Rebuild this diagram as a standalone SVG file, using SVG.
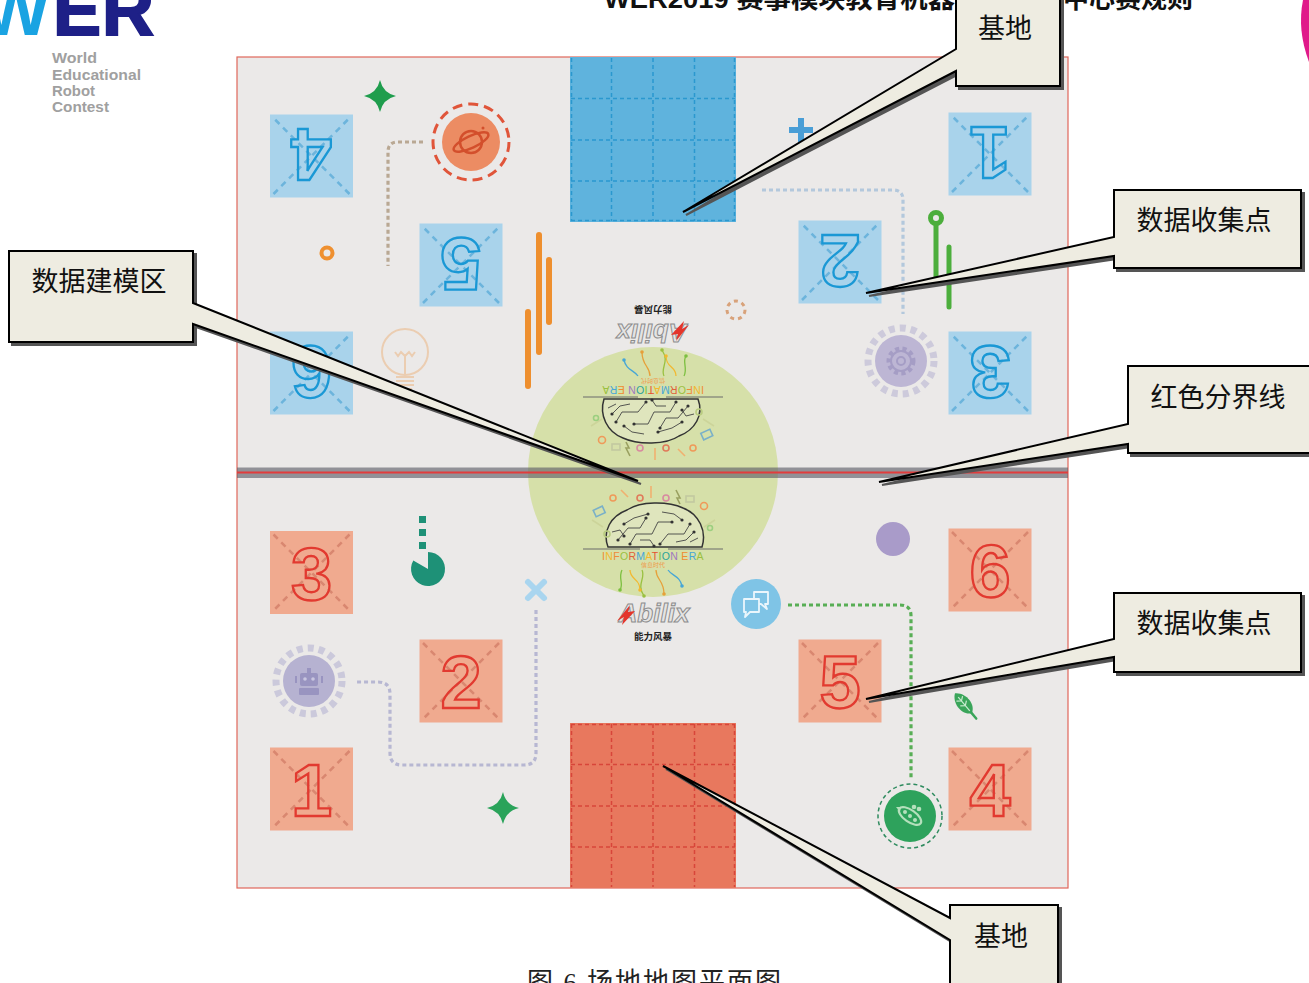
<svg xmlns="http://www.w3.org/2000/svg" xmlns:xlink="http://www.w3.org/1999/xlink" width="1309" height="983" viewBox="0 0 1309 983">
  <defs>
    <style>
      .cj { font-family: "Noto Sans CJK SC", sans-serif; }
      .callout { fill: #eeece1; stroke: #000; stroke-width: 2; stroke-linejoin: miter; }
      .shadow { fill: #555; stroke: #555; stroke-width: 2; }
      .ctext { font-family: "Noto Sans CJK SC", sans-serif; font-size: 27px; fill: #111; text-anchor: middle; }
      .sqb { fill: #a9d3eb; }
      .sqr { fill: #f0aa8f; }
      .diagb { stroke: #6cb4dc; stroke-width: 2.5; stroke-dasharray: 6 5; fill: none; }
      .diagr { stroke: #d98770; stroke-width: 2.5; stroke-dasharray: 6 5; fill: none; }
      .digb { font-family: "Liberation Sans", sans-serif; font-weight: bold; font-size: 74px; fill: none; stroke: #1a98d5; stroke-width: 2.3; text-anchor: middle; }
      .digr { font-family: "Liberation Sans", sans-serif; font-weight: bold; font-size: 74px; fill: none; stroke: #e23a30; stroke-width: 2.3; text-anchor: middle; }
      .dot { fill: none; stroke-width: 3.2; stroke-dasharray: 4 3; stroke-linecap: butt; }
      .gridb { stroke: #2a98cf; stroke-width: 1.5; stroke-dasharray: 4 3; fill: none; }
      .gridr { stroke: #d8453a; stroke-width: 1.5; stroke-dasharray: 4 3; fill: none; }
      .wer { font-family: "Liberation Sans", sans-serif; font-weight: bold; fill: #a0a0a0; font-size: 15px; }
    </style>
    <linearGradient id="wGrad" x1="0" y1="0" x2="1" y2="0">
      <stop offset="0" stop-color="#1aa3e2"/>
      <stop offset="0.48" stop-color="#1aa3e2"/>
      <stop offset="0.49" stop-color="#e3187f"/>
      <stop offset="0.7" stop-color="#e3187f"/>
      <stop offset="0.71" stop-color="#1e2087"/>
      <stop offset="1" stop-color="#1e2087"/>
    </linearGradient>
    <path id="star4" d="M0,-16 Q3,-3 16,0 Q3,3 0,16 Q-3,3 -16,0 Q-3,-3 0,-16 Z"/>
    <g id="diagonals">
      <line x1="-38" y1="-38" x2="38" y2="38"/>
      <line x1="38" y1="-38" x2="-38" y2="38"/>
    </g>
  </defs>

  <!-- page -->
  <rect x="0" y="0" width="1309" height="983" fill="#ffffff"/>

  <!-- WER logo -->
  <g id="logo">
    <text x="0" y="35" font-family="Liberation Sans, sans-serif" font-weight="bold" font-size="72" fill="#1e2087" stroke="#1e2087" stroke-width="2"><tspan x="-18" fill="url(#wGrad)" stroke="none">W</tspan><tspan x="53">E</tspan><tspan x="102">R</tspan></text>
    <text class="wer" x="52" y="63" textLength="45" lengthAdjust="spacingAndGlyphs">World</text>
    <text class="wer" x="52" y="80" textLength="89" lengthAdjust="spacingAndGlyphs">Educational</text>
    <text class="wer" x="52" y="96" textLength="43" lengthAdjust="spacingAndGlyphs">Robot</text>
    <text class="wer" x="52" y="112" textLength="57" lengthAdjust="spacingAndGlyphs">Contest</text>
  </g>
  <path d="M1309,0 L1303,0 Q1297,30 1309,62 Z" fill="#e0198a"/>

  <!-- page heading -->
  <g id="heading" font-family="Liberation Sans, 'Noto Sans CJK SC', sans-serif" font-weight="bold" font-size="26" fill="#111">
    <text x="604" y="8" textLength="351" lengthAdjust="spacingAndGlyphs">WER2019 赛事模块教育机器</text>
    <text x="1193" y="8" text-anchor="end">中心赛规则</text>
  </g>

  <!-- playing field -->
  <g id="field">
    <rect x="237" y="57" width="831" height="831" fill="#ebe9e8" stroke="#e0675a" stroke-width="1.2"/>
    <circle id="modeling-zone" cx="653" cy="472" r="125" fill="#d6e0a9"/>
  </g>

  <!-- home bases -->
  <g id="base-top">
    <rect x="570" y="57" width="166" height="165" fill="#5fb3dd"/>
    <path class="gridb" d="M571.5,58 V221 M611.5,58 V221 M653,58 V221 M694.5,58 V221 M734.5,58 V221 M571,98.5 H735 M571,140 H735 M571,181 H735 M571,220.5 H735"/>
  </g>
  <g id="base-bottom">
    <rect x="570" y="723" width="166" height="165" fill="#e8785e"/>
    <path class="gridr" d="M571.5,724 V887 M611.5,724 V887 M653,724 V887 M694.5,724 V887 M734.5,724 V887 M571,724.5 H735 M571,764.5 H735 M571,806 H735 M571,847 H735"/>
  </g>

  <!-- emblem (lower), mirrored for upper half -->
  <g id="emblem-bottom">
    <line x1="583" y1="549" x2="640" y2="549" stroke="#6a6a6a" stroke-width="1"/>
    <line x1="668" y1="549" x2="723" y2="549" stroke="#6a6a6a" stroke-width="1"/>
    <path d="M608,547 C602,531 611,516 627,510 C640,501 668,501 683,508 C699,514 707,531 702,547 Z" fill="#dfe5bd" stroke="#333" stroke-width="1.5"/>
    <g stroke="#444" stroke-width="0.9" fill="none">
      <path d="M618,540 L628,528 L640,528 L646,518"/>
      <path d="M630,544 L636,534 L652,534 L658,522 L672,522"/>
      <path d="M660,544 L668,534 L684,534 L690,524"/>
      <path d="M624,524 L634,518 L648,514"/>
      <path d="M676,542 L686,540 L694,532"/>
      <path d="M640,540 L650,540 L654,546"/>
      <path d="M662,512 L674,514 L682,520"/>
      <path d="M612,532 L620,530 L624,536"/>
      <path d="M690,542 L698,538"/>
    </g>
    <g fill="#333">
      <circle cx="618" cy="540" r="1.6"/><circle cx="646" cy="518" r="1.6"/><circle cx="672" cy="522" r="1.6"/>
      <circle cx="690" cy="524" r="1.6"/><circle cx="624" cy="524" r="1.6"/><circle cx="648" cy="514" r="1.6"/>
      <circle cx="694" cy="532" r="1.6"/><circle cx="654" cy="546" r="1.6"/><circle cx="682" cy="520" r="1.6"/>
      <circle cx="630" cy="544" r="1.6"/><circle cx="660" cy="544" r="1.6"/><circle cx="624" cy="536" r="1.6"/>
    </g>
    <g stroke-width="1.6" fill="none">
      <line x1="592" y1="520" x2="603" y2="527" stroke="#ccd49a"/>
      <line x1="715" y1="520" x2="704" y2="527" stroke="#ccd49a"/>
      <rect x="594" y="508" width="10" height="7" stroke="#7ab0c8" transform="rotate(-25 599 511)"/>
      <circle cx="607" cy="534" r="3" stroke="#b9cc80"/>
      <circle cx="613" cy="498" r="3" stroke="#ef9a5a"/>
      <line x1="621" y1="490" x2="628" y2="497" stroke="#f0b070"/>
      <circle cx="640" cy="498" r="3" stroke="#e07a5a"/>
      <line x1="651" y1="486" x2="651" y2="498" stroke="#f0b070"/>
      <circle cx="666" cy="498" r="3" stroke="#d88aa0"/>
      <path d="M676,490 l4,8 l-3,0 l3,6" stroke="#9aa060"/>
      <rect x="686" y="496" width="8" height="6" stroke="#c2c9a0"/>
      <circle cx="704" cy="506" r="3.5" stroke="#ef9a5a"/>
      <circle cx="710" cy="528" r="2.5" stroke="#9ccf80"/>
    </g>
    <text x="653" y="560" text-anchor="middle" font-family="Liberation Sans, sans-serif" font-size="10.5" letter-spacing="0.3"><tspan fill="#f08c30">I</tspan><tspan fill="#f2b830">N</tspan><tspan fill="#ef8a3a">F</tspan><tspan fill="#9ac040">O</tspan><tspan fill="#e0603a">R</tspan><tspan fill="#47a6d6">M</tspan><tspan fill="#f2b830">A</tspan><tspan fill="#e6502f">T</tspan><tspan fill="#7cbf40">I</tspan><tspan fill="#2ba39a">O</tspan><tspan fill="#a07ac0">N</tspan><tspan fill="#f08c30"> E</tspan><tspan fill="#47a6d6">R</tspan><tspan fill="#9ac040">A</tspan></text>
    <text x="653" y="567" text-anchor="middle" font-family="Noto Sans CJK SC, sans-serif" font-size="6" fill="#ef9a4a">信息时代</text>
    <g fill="none" stroke-width="1.3">
      <path d="M630,570 C630,580 640,578 640,590" stroke="#f2b830"/>
      <path d="M642,570 C646,578 636,584 644,596" stroke="#9ac040"/>
      <path d="M656,570 C656,580 664,580 664,594" stroke="#e6a03a"/>
      <path d="M668,570 C672,576 680,576 682,586" stroke="#47a6d6"/>
      <path d="M622,570 C618,578 624,584 620,590" stroke="#7cbf40"/>
    </g>
    <g>
      <circle cx="640" cy="590" r="1.8" fill="#f2b830"/><circle cx="644" cy="596" r="1.8" fill="#9ac040"/>
      <circle cx="664" cy="594" r="1.8" fill="#e6a03a"/><circle cx="682" cy="586" r="1.8" fill="#47a6d6"/>
      <circle cx="620" cy="590" r="1.8" fill="#7cbf40"/>
    </g>
    <!-- maker logo -->
    <text x="654" y="622" text-anchor="middle" font-family="Liberation Sans, sans-serif" font-weight="bold" font-style="italic" font-size="26" fill="#e4e4e4" stroke="#8c8c8c" stroke-width="1">Abilix</text>
    <path d="M617,621 L630,605 L628,612 L635,611 L622,625 L624,617 Z" fill="#e4352b"/>
    <text x="653" y="640" text-anchor="middle" font-family="Noto Sans CJK SC, sans-serif" font-weight="bold" font-size="9.5" fill="#222">能力风暴</text>
  </g>
  <use id="emblem-top" xlink:href="#emblem-bottom" transform="rotate(180 653 473)"/>

  <!-- dotted trails -->
  <g id="connectors">
    <path class="dot" d="M423,142 H398 Q388,142 388,152 V266" stroke="#b9a893"/>
    <path class="dot" d="M762,190 H893 Q903,190 903,200 V314" stroke="#b3c8dc"/>
    <path class="dot" d="M536,610 V753 Q536,765 524,765 H402 Q390,765 390,753 V694 Q390,682 378,682 H357" stroke="#b7b7d2"/>
    <path class="dot" d="M788,605 H900 Q911,605 911,616 V779" stroke="#58ae55"/>
  </g>

  <!-- data tiles, upper half (blue, turned) -->
  <g id="tile-b4" transform="translate(311.5,156) rotate(180)"><rect class="sqb" x="-41.5" y="-41.5" width="83" height="83"/><use class="diagb" xlink:href="#diagonals"/><text class="digb" y="27">4</text></g>
  <g id="tile-b5" transform="translate(461,265) rotate(180)"><rect class="sqb" x="-41.5" y="-41.5" width="83" height="83"/><use class="diagb" xlink:href="#diagonals"/><text class="digb" y="27">5</text></g>
  <g id="tile-b6" transform="translate(311.5,373) rotate(180)"><rect class="sqb" x="-41.5" y="-41.5" width="83" height="83"/><use class="diagb" xlink:href="#diagonals"/><text class="digb" y="27">6</text></g>
  <g id="tile-b1" transform="translate(990,154) rotate(180)"><rect class="sqb" x="-41.5" y="-41.5" width="83" height="83"/><use class="diagb" xlink:href="#diagonals"/><text class="digb" y="27">1</text></g>
  <g id="tile-b2" transform="translate(840,262) rotate(180)"><rect class="sqb" x="-41.5" y="-41.5" width="83" height="83"/><use class="diagb" xlink:href="#diagonals"/><text class="digb" y="27">2</text></g>
  <g id="tile-b3" transform="translate(990,373) rotate(180)"><rect class="sqb" x="-41.5" y="-41.5" width="83" height="83"/><use class="diagb" xlink:href="#diagonals"/><text class="digb" y="27">3</text></g>

  <!-- data tiles, lower half (red) -->
  <g id="tile-r3" transform="translate(311.5,572.5)"><rect class="sqr" x="-41.5" y="-41.5" width="83" height="83"/><use class="diagr" xlink:href="#diagonals"/><text class="digr" y="27">3</text></g>
  <g id="tile-r2" transform="translate(461,681)"><rect class="sqr" x="-41.5" y="-41.5" width="83" height="83"/><use class="diagr" xlink:href="#diagonals"/><text class="digr" y="27">2</text></g>
  <g id="tile-r1" transform="translate(311.5,789)"><rect class="sqr" x="-41.5" y="-41.5" width="83" height="83"/><use class="diagr" xlink:href="#diagonals"/><text class="digr" y="27">1</text></g>
  <g id="tile-r6" transform="translate(990,570)"><rect class="sqr" x="-41.5" y="-41.5" width="83" height="83"/><use class="diagr" xlink:href="#diagonals"/><text class="digr" y="27">6</text></g>
  <g id="tile-r5" transform="translate(840,681)"><rect class="sqr" x="-41.5" y="-41.5" width="83" height="83"/><use class="diagr" xlink:href="#diagonals"/><text class="digr" y="27">5</text></g>
  <g id="tile-r4" transform="translate(990,789)"><rect class="sqr" x="-41.5" y="-41.5" width="83" height="83"/><use class="diagr" xlink:href="#diagonals"/><text class="digr" y="27">4</text></g>

  <!-- decorative props -->
  <g id="props">
    <use xlink:href="#star4" transform="translate(380,96)" fill="#1f9d4d"/>
    <use xlink:href="#star4" transform="translate(503,808)" fill="#2aa35a"/>
    <!-- planet badge -->
    <g id="planet" transform="translate(471,142)">
      <circle r="38" fill="none" stroke="#e0553a" stroke-width="3" stroke-dasharray="10 6"/>
      <circle r="29" fill="#ec8c63"/>
      <circle r="11" fill="none" stroke="#d34f2c" stroke-width="2.5"/>
      <ellipse rx="19" ry="6" fill="none" stroke="#d34f2c" stroke-width="2.5" transform="rotate(-25)"/>
      <circle cx="12" cy="-14" r="1.5" fill="#d34f2c"/>
    </g>
    <circle cx="327" cy="253" r="5.5" fill="none" stroke="#ef9030" stroke-width="4"/>
    <g stroke="#ee8f2e" stroke-width="6" stroke-linecap="round">
      <line x1="528" y1="312" x2="528" y2="386"/>
      <line x1="539" y1="235" x2="539" y2="352"/>
      <line x1="549" y1="260" x2="549" y2="322"/>
    </g>
    <!-- light bulb -->
    <g id="bulb" fill="none" stroke="#ebcdb1" stroke-width="2">
      <circle cx="405" cy="352" r="23"/>
      <path d="M395,352 l3,4 l3,-4 l4,4 l4,-4 l3,4 l3,-4"/>
      <line x1="405" y1="356" x2="405" y2="375"/>
      <line x1="396" y1="377" x2="414" y2="377"/>
      <line x1="396" y1="381" x2="414" y2="381"/>
      <line x1="396" y1="385" x2="414" y2="385"/>
      <line x1="398" y1="389" x2="412" y2="389"/>
    </g>
    <g fill="#4a9ed6">
      <rect x="789" y="127" width="24" height="6"/>
      <rect x="798" y="118" width="6" height="24"/>
    </g>
    <circle cx="736" cy="310" r="9" fill="none" stroke="#d8a27a" stroke-width="3" stroke-dasharray="4 4"/>
    <!-- green pin -->
    <g stroke="#4cae3c" stroke-width="5" stroke-linecap="round" fill="none">
      <circle cx="936" cy="218" r="5.5"/>
      <line x1="936" y1="224" x2="936" y2="280"/>
      <line x1="949" y1="247" x2="949" y2="307"/>
    </g>
    <!-- gear badge -->
    <g id="gear" transform="translate(901,361)">
      <circle r="33" fill="none" stroke="#cdcadb" stroke-width="7" stroke-dasharray="6 5"/>
      <circle r="26" fill="#bdb6d4"/>
      <circle r="12" fill="none" stroke="#a59dc5" stroke-width="5" stroke-dasharray="4 3.2"/>
      <circle r="10" fill="none" stroke="#a59dc5" stroke-width="2"/>
      <circle r="4" fill="none" stroke="#a59dc5" stroke-width="2"/>
    </g>
    <!-- lower half props -->
    <g fill="#1e9177">
      <rect x="419" y="516" width="7" height="7"/>
      <rect x="419" y="529" width="7" height="7"/>
      <rect x="419" y="542" width="7" height="7"/>
      <path d="M428,569 L428,552 A17,17 0 1 1 413.3,560.5 Z"/>
    </g>
    <g stroke="#a9d5ef" stroke-width="6" stroke-linecap="round">
      <line x1="528" y1="582" x2="544" y2="598"/>
      <line x1="544" y1="582" x2="528" y2="598"/>
    </g>
    <!-- robot badge -->
    <g id="robot" transform="translate(309,681)">
      <circle r="33" fill="none" stroke="#cbc9db" stroke-width="7" stroke-dasharray="6 5"/>
      <circle r="26" fill="#b6b2d1"/>
      <g fill="#9994c0">
        <rect x="-9" y="-8" width="18" height="13" rx="2"/>
        <rect x="-2" y="-13" width="4" height="5"/>
        <rect x="-10" y="7" width="20" height="7" rx="1"/>
        <rect x="-14" y="-5" width="2" height="7"/>
        <rect x="12" y="-5" width="2" height="7"/>
      </g>
      <circle cx="-4" cy="-2" r="1.8" fill="#c9c6e0"/>
      <circle cx="4" cy="-2" r="1.8" fill="#c9c6e0"/>
    </g>
    <circle cx="893" cy="539" r="17" fill="#a99bc9"/>
    <!-- chat badge -->
    <g id="chat" transform="translate(756,604)">
      <circle r="25" fill="#7fc4e6"/>
      <g fill="none" stroke="#eaf6fc" stroke-width="1.8" stroke-linejoin="round">
        <path d="M-2,-12 H12 V0 H9 L11,5 L5,0 H-2 Z"/>
        <path d="M-12,-5 H3 V8 H-6 L-11,13 L-10,8 H-12 Z" fill="#7fc4e6"/>
      </g>
    </g>
    <!-- pea pod badge -->
    <g id="pod" transform="translate(910,816)">
      <circle r="32" fill="none" stroke="#2e8b5e" stroke-width="1.5" stroke-dasharray="4 3"/>
      <circle r="26" fill="#2ea25c"/>
      <g fill="none" stroke="#b4e0bc" stroke-width="2.2">
        <ellipse rx="13" ry="6" transform="rotate(35)"/>
      </g>
      <g fill="#b4e0bc">
        <circle cx="-5" cy="-4" r="2"/><circle cx="0" cy="0" r="2"/><circle cx="5" cy="4" r="2"/>
        <circle cx="4" cy="-9" r="2.3"/><circle cx="9" cy="-7" r="2.3"/>
        <path d="M-14,-9 l5,0 l-1,5 Z"/>
      </g>
    </g>
    <!-- leaf -->
    <g id="leaf" transform="translate(964,704) rotate(-40)">
      <path d="M0,-14 C9,-8 9,8 0,12 C-9,8 -9,-8 0,-14 Z" fill="#3aa55a"/>
      <line x1="0" y1="10" x2="0" y2="19" stroke="#3aa55a" stroke-width="2.5" stroke-linecap="round"/>
      <g stroke="#c9ebd0" stroke-width="1.2" fill="none">
        <line x1="0" y1="-9" x2="0" y2="9"/>
        <path d="M0,-4 l-4,-3 M0,-4 l4,-3 M0,2 l-4,-3 M0,2 l4,-3"/>
      </g>
    </g>
  </g>

  <!-- red boundary -->
  <g id="boundary">
    <rect x="237" y="467.5" width="831" height="10.5" fill="#5b5b66" opacity="0.62"/>
    <line x1="237" y1="472.5" x2="1068" y2="472.5" stroke="#e23c3c" stroke-width="2"/>
  </g>

  <!-- callouts -->
  <g id="callout-base-top">
    <path class="shadow" d="M956,-20 H1060 V86 H956 V71 L683,212 L956,49 Z" transform="translate(3,3)"/>
    <path class="callout" d="M956,-20 H1060 V86 H956 V71 L683,212 L956,49 Z"/>
    <text class="ctext" x="1005" y="38">基地</text>
  </g>
  <g id="callout-data-top">
    <path class="shadow" d="M1114,190 H1301 V268 H1114 V256 L866,293 L1114,237 Z" transform="translate(3,3)"/>
    <path class="callout" d="M1114,190 H1301 V268 H1114 V256 L866,293 L1114,237 Z"/>
    <text class="ctext" x="1204" y="230">数据收集点</text>
  </g>
  <g id="callout-modeling">
    <path class="shadow" d="M9,251 H193 V303 L638,481 L193,324 V342 H9 Z" transform="translate(3,3)"/>
    <path class="callout" d="M9,251 H193 V303 L638,481 L193,324 V342 H9 Z"/>
    <text class="ctext" x="99" y="291">数据建模区</text>
  </g>
  <g id="callout-boundary">
    <path class="shadow" d="M1128,366 H1312 V453 H1128 V444 L879,482 L1128,424 Z" transform="translate(3,3)"/>
    <path class="callout" d="M1128,366 H1312 V453 H1128 V444 L879,482 L1128,424 Z"/>
    <text class="ctext" x="1218" y="407">红色分界线</text>
  </g>
  <g id="callout-data-bottom">
    <path class="shadow" d="M1114,593 H1301 V672 H1114 V657 L866,699 L1114,639 Z" transform="translate(3,3)"/>
    <path class="callout" d="M1114,593 H1301 V672 H1114 V657 L866,699 L1114,639 Z"/>
    <text class="ctext" x="1204" y="633">数据收集点</text>
  </g>
  <g id="callout-base-bottom">
    <path class="shadow" d="M950,905 H1058 V1000 H950 V940 L663,766 L950,918 Z" transform="translate(3,3)"/>
    <path class="callout" d="M950,905 H1058 V1000 H950 V940 L663,766 L950,918 Z"/>
    <text class="ctext" x="1001" y="946">基地</text>
  </g>

  <!-- figure caption -->
  <text id="caption" x="527" y="991" textLength="254" lengthAdjust="spacing" font-family="'Liberation Serif', 'Noto Sans CJK SC', serif" font-size="26" fill="#222">图 6  场地地图平面图</text>
</svg>
